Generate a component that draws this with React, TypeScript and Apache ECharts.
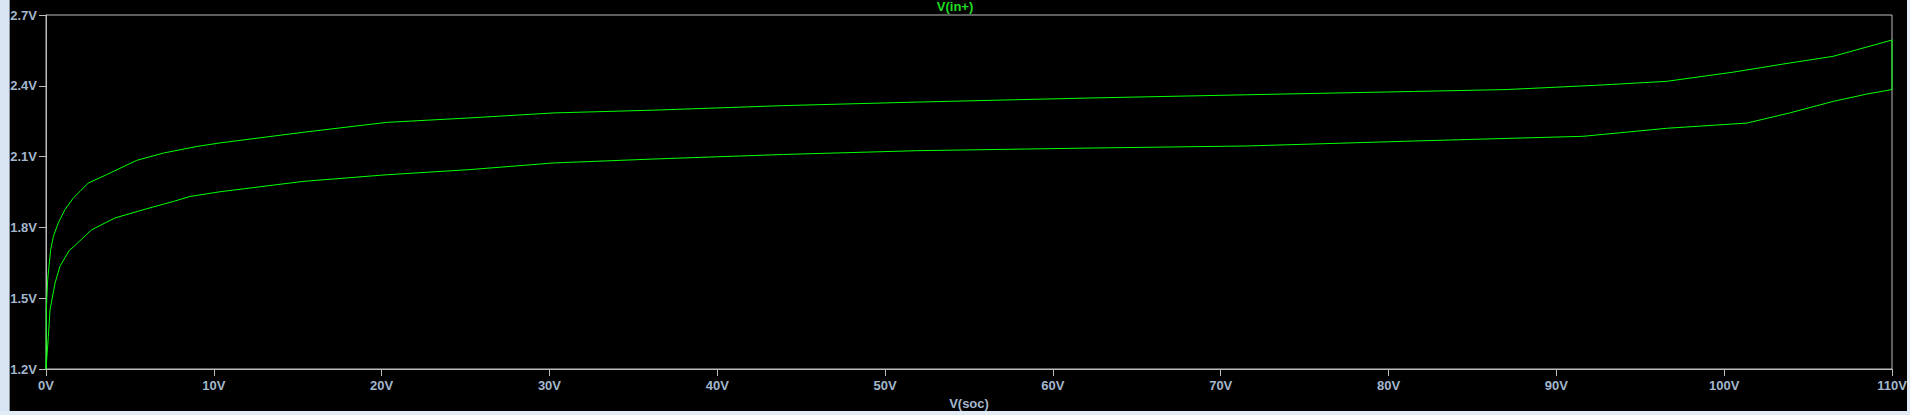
import React, { useEffect, useRef } from "react";
import * as echarts from "echarts";

const chartTitle = "V(in+)";
const xAxisName = "V(soc)";

// [V(soc), V(in+)] — upper branch (charge)
const upperBranch: [number, number][] = [
  [0, 1.2], [0.02, 1.45], [0.1, 1.58], [0.28, 1.706], [0.44, 1.762], [0.73, 1.819],
  [1.13, 1.875], [1.63, 1.925], [2.03, 1.953], [2.52, 1.988], [3.6, 2.023],
  [5.4, 2.084], [7, 2.115], [9, 2.143], [10.37, 2.158], [15.33, 2.203],
  [20.3, 2.245], [25.27, 2.264], [30.23, 2.285], [36.3, 2.297], [43.94, 2.316],
  [51.89, 2.331], [62, 2.348], [71.55, 2.362], [81.5, 2.376], [87, 2.384],
  [92.6, 2.403], [96.58, 2.419], [100.55, 2.458], [103.5, 2.492], [106.5, 2.525],
  [110, 2.594],
];

// [V(soc), V(in+)] — lower branch (discharge)
const lowerBranch: [number, number][] = [
  [0, 1.2], [0.14, 1.338], [0.24, 1.451], [0.54, 1.564], [0.83, 1.635],
  [1.39, 1.703], [1.63, 1.717], [2.72, 1.79], [4.11, 1.84], [6, 1.879],
  [7.59, 1.91], [8.58, 1.931], [10.37, 1.951], [15.33, 1.995], [20.3, 2.023],
  [25.27, 2.045], [30.23, 2.073], [36.3, 2.09], [43.94, 2.109], [51.89, 2.125],
  [62, 2.136], [71.55, 2.145], [81.5, 2.166], [87, 2.177], [91.6, 2.186],
  [96.58, 2.22], [101.35, 2.242], [103.9, 2.285], [106.5, 2.334], [108.5, 2.365],
  [110, 2.384],
];

const xMin = 0, xMax = 110, xStep = 10;
const yMin = 1.2, yMax = 2.7, yStep = 0.3;

export default function App() {
  const ref = useRef<HTMLDivElement>(null);
  useEffect(() => {
    document.body.style.margin = "0";
    if (!ref.current) return;
    const chart = echarts.init(ref.current, null, { renderer: "svg" });
    const loop = [...upperBranch, ...[...lowerBranch].reverse()];
    const labelColor = "#a4b7cc";
    const axisColor = "#bcbcbc";
    const font = "'Liberation Sans', Arial, sans-serif";
    chart.setOption({
      animation: false,
      backgroundColor: "#000000",
      title: {
        text: chartTitle,
        left: "center",
        top: 0,
        padding: 0,
        textStyle: { color: "#22dd22", fontSize: 13, fontWeight: "bold", fontFamily: font, lineHeight: 13 },
      },
      grid: {
        left: 46, right: 18, top: 15, bottom: 46,
        show: true, borderColor: axisColor, borderWidth: 1, backgroundColor: "#000000",
      },
      xAxis: {
        type: "value",
        min: xMin, max: xMax, interval: xStep,
        name: xAxisName,
        nameLocation: "middle",
        nameGap: 27,
        nameTextStyle: { color: labelColor, fontSize: 13, fontWeight: "bold", fontFamily: font },
        axisLine: { show: true, lineStyle: { color: axisColor, width: 1 } },
        axisTick: { show: true, length: 7, lineStyle: { color: axisColor } },
        axisLabel: {
          color: labelColor, fontSize: 13, fontWeight: "bold", fontFamily: font, margin: 10,
          formatter: (v: number) => `${Math.round(v)}V`,
        },
        splitLine: { show: false },
      },
      yAxis: {
        type: "value",
        min: yMin, max: yMax, interval: yStep,
        axisLine: { show: true, lineStyle: { color: axisColor, width: 1 } },
        axisTick: { show: true, length: 7, lineStyle: { color: axisColor } },
        axisLabel: {
          color: labelColor, fontSize: 13, fontWeight: "bold", fontFamily: font, margin: 9,
          formatter: (v: number) => `${v.toFixed(1)}V`,
        },
        splitLine: { show: false },
      },
      graphic: [
        { type: "rect", shape: { x: 0, y: 0, width: 9, height: 415 }, style: { fill: "#d9e5f3" } },
        { type: "rect", shape: { x: 9, y: 0, width: 1, height: 415 }, style: { fill: "#8c949c" } },
        { type: "rect", shape: { x: 0, y: 411, width: 1910, height: 4 }, style: { fill: "#e2ecf7" } },
        { type: "rect", shape: { x: 1907, y: 0, width: 3, height: 415 }, style: { fill: "#e2ecf7" } },
      ],
      series: [
        {
          type: "line",
          data: loop,
          showSymbol: false,
          symbol: "none",
          lineStyle: { color: "#00ff00", width: 1 },
          silent: true,
        },
      ],
    });
    return () => chart.dispose();
  }, []);
  return <div ref={ref} style={{ width: 1910, height: 415 }} />;
}
